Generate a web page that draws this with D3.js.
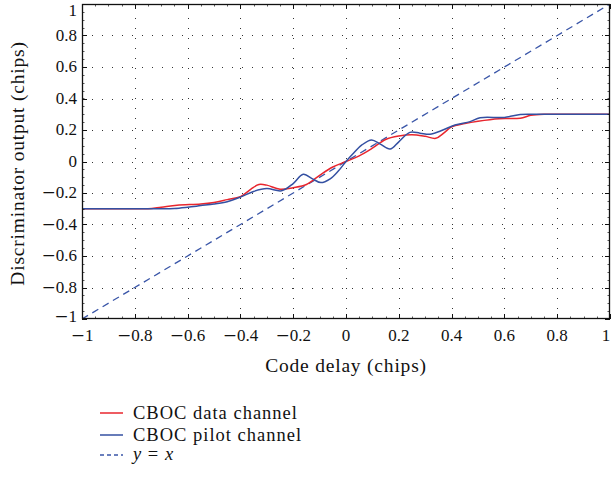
<!DOCTYPE html>
<html>
<head>
<meta charset="utf-8">
<script src="https://cdn.jsdelivr.net/npm/d3@7"></script>
<style>
  html, body { margin: 0; padding: 0; background: #fff; }
  svg { display: block; }
  text { font-family: "Liberation Serif", "DejaVu Serif", serif; fill: #111; }
  .lbl { font-size: 19.5px; letter-spacing: 0.8px; }
  .leg { font-size: 18.5px; letter-spacing: 1px; }
  .tick { font-size: 17px; }
  .minus { font-family: "DejaVu Serif", serif; }
</style>
</head>
<body>
<div id="chart"></div>
<script>
// Discriminator output vs. code delay for the CBOC data and pilot channels

const xTicks = [-1, -0.8, -0.6, -0.4, -0.2, 0, 0.2, 0.4, 0.6, 0.8, 1];
const yTicks = [-1, -0.8, -0.6, -0.4, -0.2, 0, 0.2, 0.4, 0.6, 0.8, 1];

// CBOC data channel (red)
const dataDelay = [-1, -0.9, -0.8, -0.75, -0.7, -0.64, -0.55, -0.5, -0.45, -0.4, -0.36, -0.33, -0.3, -0.25, -0.2, -0.15, -0.1, -0.05, 0,
                   0.05, 0.1, 0.15, 0.2, 0.25, 0.3, 0.34, 0.37, 0.4, 0.45, 0.5, 0.58, 0.66, 0.7, 0.75, 0.8, 0.9, 1];
const dataOut   = [-0.3, -0.3, -0.3, -0.3, -0.29, -0.277, -0.27, -0.26, -0.242, -0.223, -0.175, -0.146, -0.15, -0.176, -0.166, -0.146, -0.088, -0.035, 0,
                   0.036, 0.085, 0.14, 0.162, 0.17, 0.16, 0.147, 0.18, 0.22, 0.241, 0.256, 0.272, 0.275, 0.293, 0.3, 0.3, 0.3, 0.3];

// CBOC pilot channel (blue)
const pilotDelay = [-1, -0.9, -0.8, -0.7, -0.65, -0.6, -0.55, -0.5, -0.45, -0.4, -0.35, -0.3, -0.244, -0.2, -0.162, -0.125, -0.095, -0.06, -0.03, 0,
                    0.03, 0.06, 0.097, 0.13, 0.167, 0.2, 0.242, 0.28, 0.318, 0.36, 0.413, 0.47, 0.508, 0.6, 0.66, 0.7, 0.8, 0.9, 1];
const pilotOut   = [-0.3, -0.3, -0.3, -0.3, -0.298, -0.29, -0.28, -0.27, -0.255, -0.226, -0.19, -0.172, -0.186, -0.14, -0.081, -0.112, -0.134, -0.11, -0.062, 0,
                    0.055, 0.105, 0.137, 0.11, 0.079, 0.125, 0.185, 0.18, 0.173, 0.195, 0.232, 0.253, 0.278, 0.28, 0.298, 0.3, 0.3, 0.3, 0.3];

// Reference line y = x
const identityDelay = [-1, 1];

const legendLabels = ["CBOC data channel", "CBOC pilot channel"];

const W = 612, H = 482;
const margin = { left: 82, right: 2, top: 4, bottom: 163 };

const RED = "#e8262e", BLUE = "#3450a2", DASHBLUE = "#3a56a8";

const svg = d3.select("#chart").append("svg")
  .attr("width", W).attr("height", H);

const x = d3.scaleLinear().domain([-1, 1]).range([margin.left, W - margin.right]);
const y = d3.scaleLinear().domain([-1, 1]).range([H - margin.bottom, margin.top]);

const x0 = x.range()[0], x1 = x.range()[1];
const y0 = y.range()[0], y1 = y.range()[1];

// dotted grid
const grid = svg.append("g")
  .attr("stroke", "#333").attr("stroke-width", 1).attr("stroke-dasharray", "1,9");
grid.selectAll("line.gx").data(xTicks.slice(1, -1)).join("line")
  .attr("x1", d => Math.round(x(d)) + 0.5).attr("x2", d => Math.round(x(d)) + 0.5)
  .attr("y1", y0).attr("y2", y1);
grid.selectAll("line.gy").data(yTicks.slice(1, -1)).join("line")
  .attr("y1", d => Math.round(y(d)) + 0.5).attr("y2", d => Math.round(y(d)) + 0.5)
  .attr("x1", x0).attr("x2", x1);

// curves
svg.append("clipPath").attr("id", "plotclip")
  .append("rect").attr("x", x0).attr("y", y1).attr("width", x1 - x0).attr("height", y0 - y1);

const line = d3.line().x(d => x(d[0])).y(d => y(d[1])).curve(d3.curveCatmullRom.alpha(0.5));
const plot = svg.append("g").attr("clip-path", "url(#plotclip)");

plot.append("path")
  .datum(identityDelay.map(d => [d, d]))
  .attr("d", d3.line().x(d => x(d[0])).y(d => y(d[1])))
  .attr("fill", "none").attr("stroke", DASHBLUE).attr("stroke-width", 1.3)
  .attr("stroke-dasharray", "7,5");

plot.append("path")
  .datum(dataDelay.map((d, i) => [d, dataOut[i]]))
  .attr("d", line)
  .attr("fill", "none").attr("stroke", RED).attr("stroke-width", 1.5);

plot.append("path")
  .datum(pilotDelay.map((d, i) => [d, pilotOut[i]]))
  .attr("d", line)
  .attr("fill", "none").attr("stroke", BLUE).attr("stroke-width", 1.5);

// axes box and ticks
const axes = svg.append("g").attr("stroke", "#111").attr("stroke-width", 1);
axes.append("rect")
  .attr("x", x0 + 0.5).attr("y", y1 + 0.5)
  .attr("width", x1 - x0 - 1).attr("height", y0 - y1 - 1)
  .attr("fill", "none").attr("stroke-width", 1.3);

const minor = d3.range(-1, 1.0001, 0.05);
const majorLen = 5, minorLen = 2.5;
xTicks.forEach(t => {
  const px = Math.round(x(t)) + 0.5;
  axes.append("line").attr("x1", px).attr("x2", px).attr("y1", y0).attr("y2", y0 - majorLen);
  axes.append("line").attr("x1", px).attr("x2", px).attr("y1", y1).attr("y2", y1 + majorLen);
});
yTicks.forEach(t => {
  const py = Math.round(y(t)) + 0.5;
  axes.append("line").attr("y1", py).attr("y2", py).attr("x1", x0).attr("x2", x0 + majorLen);
  axes.append("line").attr("y1", py).attr("y2", py).attr("x1", x1).attr("x2", x1 - majorLen);
});
minor.forEach(t => {
  const px = Math.round(x(t)) + 0.5;
  axes.append("line").attr("x1", px).attr("x2", px).attr("y1", y0).attr("y2", y0 - minorLen).attr("stroke-width", 0.7);
  axes.append("line").attr("x1", px).attr("x2", px).attr("y1", y1).attr("y2", y1 + minorLen).attr("stroke-width", 0.7);
  const py = Math.round(y(t)) + 0.5;
  axes.append("line").attr("y1", py).attr("y2", py).attr("x1", x0).attr("x2", x0 + minorLen).attr("stroke-width", 0.7);
  axes.append("line").attr("y1", py).attr("y2", py).attr("x1", x1).attr("x2", x1 - minorLen).attr("stroke-width", 0.7);
});

// tick labels with a typographic minus
function tickText(sel) {
  sel.each(function (d) {
    const t = d3.select(this);
    if (d < 0) t.append("tspan").attr("class", "minus").text("\u2212");
    t.append("tspan").text(String(Math.abs(d)));
  });
}

// keep the outermost labels inside the page
svg.append("g").selectAll("text").data(xTicks).join("text")
  .attr("class", "tick")
  .attr("x", d => Math.min(x(d), W - 6)).attr("y", y0 + 22)
  .attr("text-anchor", "middle")
  .call(tickText);

svg.append("g").selectAll("text").data(yTicks).join("text")
  .attr("class", "tick")
  .attr("x", x0 - 5).attr("y", d => Math.min(Math.max(y(d) + 5.3, 15.5), y0 + 3))
  .attr("text-anchor", "end")
  .call(tickText);

svg.append("text")
  .attr("class", "lbl")
  .attr("x", (x0 + x1) / 2).attr("y", 372)
  .attr("text-anchor", "middle")
  .text("Code delay (chips)");

svg.append("text")
  .attr("class", "lbl")
  .attr("transform", `translate(24,${(y0 + y1) / 2 + 2}) rotate(-90)`)
  .attr("text-anchor", "middle")
  .text("Discriminator output (chips)");

// legend
const legend = svg.append("g");
const lx0 = 100, lx1 = 123, ltx = 133;
const rows = [
  { yy: 413, color: RED, label: legendLabels[0] },
  { yy: 435, color: BLUE, label: legendLabels[1] }
];
rows.forEach(r => {
  legend.append("line").attr("x1", lx0).attr("x2", lx1).attr("y1", r.yy).attr("y2", r.yy)
    .attr("stroke", r.color).attr("stroke-width", 1.5);
  legend.append("text").attr("class", "leg").attr("x", ltx).attr("y", r.yy + 6.2).text(r.label);
});
legend.append("line").attr("x1", lx0).attr("x2", lx1).attr("y1", 455).attr("y2", 455)
  .attr("stroke", DASHBLUE).attr("stroke-width", 1.3).attr("stroke-dasharray", "4,3");
const eq = legend.append("text").attr("class", "leg").attr("x", ltx).attr("y", 460.2);
eq.append("tspan").attr("font-style", "italic").text("y");
eq.append("tspan").text(" = ");
eq.append("tspan").attr("font-style", "italic").text("x");
</script>
</body>
</html>
